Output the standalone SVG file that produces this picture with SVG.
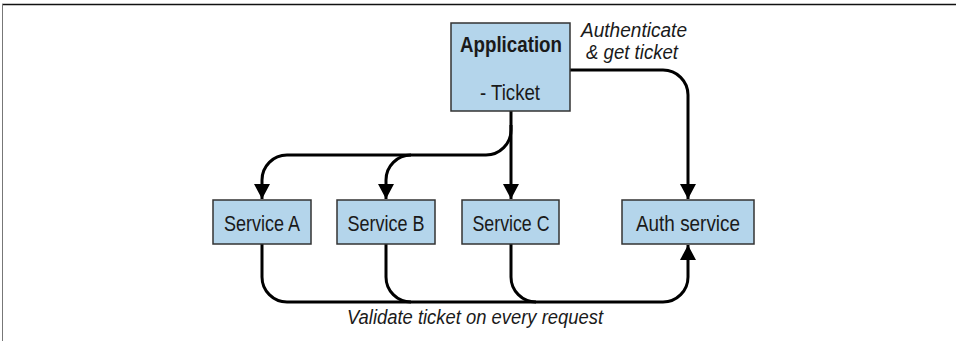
<svg xmlns="http://www.w3.org/2000/svg" width="956" height="341" viewBox="0 0 956 341">
  <style>
    .box { fill: #b4d5eb; stroke: #333333; stroke-width: 1.5; }
    .lbl { font-family: "Liberation Sans Narrow", "Liberation Sans", Arial, sans-serif; font-size: 21.5px; fill: #1a1a1a; text-anchor: middle; }
    .bold { font-weight: bold; }
    .note { font-family: "Liberation Sans Narrow", "Liberation Sans", Arial, sans-serif; font-style: italic; font-size: 19.5px; fill: #1a1a1a; text-anchor: middle; }
    .wire { fill: none; stroke: #000000; stroke-width: 3; }
  </style>
  <defs>
    <marker id="arrow" markerUnits="userSpaceOnUse" markerWidth="16" markerHeight="17" viewBox="0 0 16 17" refX="15" refY="8.5" orient="auto">
      <path d="M0,0.5 L15,8.5 L0,16.5 Z" fill="#000000"/>
    </marker>
  </defs>

  <rect width="956" height="341" fill="#ffffff"/>
  <!-- frame -->
  <line x1="2" y1="4.5" x2="956" y2="4.5" stroke="#111111" stroke-width="1.5"/>
  <line x1="2.5" y1="4" x2="2.5" y2="341" stroke="#777777" stroke-width="1"/>

  <g id="connectors">
    <!-- application to services -->
    <path class="wire" d="M511,111 V130 A25,25 0 0 1 486,155 H287 A25,25 0 0 0 262,180 V199" marker-end="url(#arrow)"/>
    <path class="wire" d="M411,155 A25,25 0 0 0 386,180 V199" marker-end="url(#arrow)"/>
    <path class="wire" d="M511,125 V199" marker-end="url(#arrow)"/>
    <!-- application to auth -->
    <path class="wire" d="M570,70 H663 A25,25 0 0 1 688,95 V199" marker-end="url(#arrow)"/>
    <!-- services validate with auth -->
    <path class="wire" d="M262,244 V277 A25,25 0 0 0 287,302 H663 A25,25 0 0 0 688,277 V245" marker-end="url(#arrow)"/>
    <path class="wire" d="M386,244 V277 A25,25 0 0 0 411,302"/>
    <path class="wire" d="M511,244 V277 A25,25 0 0 0 536,302"/>
  </g>

  <g id="application">
    <rect class="box" x="451" y="23" width="119" height="88"/>
    <text class="lbl bold" x="511" y="52" textLength="102" lengthAdjust="spacingAndGlyphs">Application</text>
    <text class="lbl" x="510" y="100" textLength="60" lengthAdjust="spacingAndGlyphs">- Ticket</text>
  </g>

  <g id="service-a">
    <rect class="box" x="213" y="200" width="98" height="44"/>
    <text class="lbl" x="262" y="231" textLength="76" lengthAdjust="spacingAndGlyphs">Service A</text>
  </g>

  <g id="service-b">
    <rect class="box" x="337" y="200" width="98" height="44"/>
    <text class="lbl" x="386" y="231" textLength="77" lengthAdjust="spacingAndGlyphs">Service B</text>
  </g>

  <g id="service-c">
    <rect class="box" x="462" y="200" width="97" height="44"/>
    <text class="lbl" x="511" y="231" textLength="77" lengthAdjust="spacingAndGlyphs">Service C</text>
  </g>

  <g id="auth-service">
    <rect class="box" x="622" y="200" width="132" height="44"/>
    <text class="lbl" x="688" y="231" textLength="104" lengthAdjust="spacingAndGlyphs">Auth service</text>
  </g>

  <g id="labels">
    <text class="note" x="634" y="37" textLength="106" lengthAdjust="spacingAndGlyphs">Authenticate</text>
    <text class="note" x="632" y="59" textLength="92" lengthAdjust="spacingAndGlyphs">&amp; get ticket</text>
    <text class="note" x="475" y="324" font-size="21" textLength="256" lengthAdjust="spacingAndGlyphs">Validate ticket on every request</text>
  </g>
</svg>
